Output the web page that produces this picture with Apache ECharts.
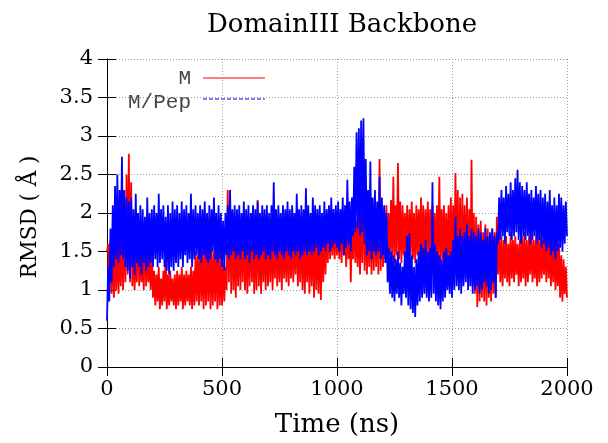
<!DOCTYPE html>
<html>
<head>
<meta charset="utf-8">
<script src="https://cdn.jsdelivr.net/npm/echarts@6/dist/echarts.min.js"></script>
<style>html,body{margin:0;padding:0;background:#fff}#c{width:608px;height:443px}</style>
</head>
<body>
<div id="c"></div>
<script>
// Sampling step of the trajectory (ns)
const stepNs = 5;
const xTicks = [0, 500, 1000, 1500, 2000];
const yTicks = [0, 0.5, 1, 1.5, 2, 2.5, 3, 3.5, 4];
const seriesNames = ['M', 'M/Pep'];

// RMSD of M (red), one value every 5 ns, 0..2000 ns
const rmsdM = [
 1.5,1.6, 1.0,1.65, 0.95,1.6, 0.9,1.55, 1.0,1.7, 0.95,1.6, 1.05,1.8, 1.0,2.0, 1.1,2.5, 1.2,2.77,
 1.1,2.4, 1.05,1.6, 1.0,1.5, 1.1,2.0, 1.05,1.55, 1.1,1.45, 1.0,1.9, 1.05,1.5, 1.1,1.45, 1.0,1.5,
 0.9,1.25, 0.8,1.2, 0.85,1.3, 0.75,1.15, 0.8,1.25, 0.85,1.5, 0.75,1.2, 0.8,1.25, 0.85,1.15, 0.8,1.2,
 0.75,1.25, 0.8,1.2, 0.85,1.3, 0.75,1.2, 0.8,1.25, 0.85,1.2, 0.8,1.3, 0.75,1.25, 0.8,1.5, 0.85,1.45,
 0.8,1.55, 0.85,1.5, 0.75,1.6, 0.8,1.5, 0.85,1.65, 0.75,1.55, 0.8,1.5, 0.85,1.6, 0.75,1.55, 0.8,1.45,
 0.8,1.35, 0.85,1.3, 1.0,2.3, 1.1,2.2, 0.95,2.0, 1.0,1.9, 0.9,2.0, 1.05,1.85, 1.0,1.9, 1.1,2.0,
 1.0,1.85, 0.95,1.9, 1.05,2.0, 1.1,1.8, 0.95,1.9, 1.0,2.17, 1.05,1.85, 0.95,1.9, 1.1,1.8, 1.0,1.9,
 1.05,1.85, 1.1,1.9, 1.0,1.8, 1.15,1.95, 1.05,1.85, 1.1,1.9, 1.0,1.85, 1.15,1.8, 1.1,1.9, 1.05,1.85,
 1.15,1.9, 1.1,1.85, 1.2,1.95, 1.05,1.8, 1.1,1.9, 1.0,1.85, 0.95,1.8, 1.1,1.9, 0.95,1.85, 1.05,1.9,
 0.9,1.85, 1.0,1.8, 0.95,1.9, 0.87,1.85, 1.1,1.8, 1.2,1.9, 1.35,1.95, 1.4,1.9, 1.45,1.95, 1.4,1.9,
 1.45,1.9, 1.4,2.0, 1.35,1.95, 1.45,1.9, 1.3,2.0, 1.4,1.95, 1.1,1.9, 1.4,2.0, 1.35,1.9, 1.3,2.1,
 1.2,2.0, 1.35,2.65, 1.25,2.1, 1.2,2.0, 1.3,2.15, 1.2,2.05, 1.25,2.1, 1.3,2.0, 1.2,2.7, 1.25,2.1,
 1.3,2.05, 1.4,2.1, 1.35,2.0, 1.45,2.17, 1.4,2.47, 1.35,2.1, 1.45,2.65, 1.4,2.15, 1.35,2.1, 1.45,2.0,
 1.4,2.1, 1.35,2.05, 1.45,2.15, 1.4,2.0, 1.35,2.1, 1.45,2.05, 1.4,2.2, 1.35,2.1, 1.4,2.05, 1.45,2.15,
 1.4,2.05, 1.35,2.1, 1.3,2.0, 1.4,2.1, 1.35,2.47, 1.3,2.05, 1.4,2.1, 1.35,2.0, 1.3,2.1, 1.35,2.2,
 1.3,2.1, 1.2,2.52, 1.25,2.3, 1.15,2.2, 1.2,2.25, 1.15,2.1, 1.2,2.2, 1.1,2.05, 1.15,2.69, 1.05,2.0,
 0.95,1.95, 0.78,1.85, 0.85,1.9, 0.9,1.75, 0.85,1.85, 0.8,1.8, 0.9,1.7, 0.85,1.8, 0.95,1.75, 0.9,1.95,
 1.2,1.75, 1.1,1.7, 1.05,1.65, 1.15,1.7, 1.1,1.6, 1.05,1.75, 1.15,1.65, 1.1,1.7, 1.2,1.6, 1.05,1.65,
 1.1,1.7, 1.15,1.75, 1.05,1.65, 1.1,1.7, 1.2,1.75, 1.1,1.65, 1.15,1.7, 1.05,1.75, 1.1,1.7, 1.15,1.65,
 1.2,1.7, 1.1,1.75, 1.15,1.7, 1.05,1.65, 1.1,1.6, 1.0,1.55, 1.05,1.6, 0.9,1.45, 0.85,1.4, 0.95,1.3,
 0.9
];

// RMSD of M/Pep (blue), one value every 5 ns, 0..2000 ns
const rmsdMPep = [
 0.6,1.3, 0.85,1.8, 1.1,2.1, 1.3,2.35, 1.4,2.5, 1.35,2.3, 1.45,2.73, 1.4,2.3, 1.3,2.2, 1.25,2.15,
 1.15,2.2, 1.3,2.05, 1.2,2.25, 1.35,2.0, 1.3,2.1, 1.2,2.05, 1.35,1.95, 1.25,2.2, 1.3,2.0, 1.35,2.05,
 1.3,2.1, 1.4,2.0, 1.3,2.25, 1.35,2.05, 1.4,2.1, 1.3,1.95, 1.25,2.1, 1.2,2.0, 1.3,2.15, 1.25,2.05,
 1.35,2.1, 1.3,2.0, 1.4,2.15, 1.3,2.05, 1.45,2.1, 1.35,2.0, 1.4,2.25, 1.3,2.05, 1.4,2.1, 1.45,2.0,
 1.4,2.1, 1.35,2.05, 1.45,2.15, 1.4,2.0, 1.35,2.1, 1.4,2.05, 1.5,2.2, 1.4,2.0, 1.35,2.1, 1.4,2.0,
 1.3,1.9, 1.25,2.0, 1.45,2.1, 1.4,2.3, 1.45,2.05, 1.5,2.1, 1.4,2.05, 1.45,2.1, 1.4,2.0, 1.5,2.15,
 1.4,2.05, 1.45,2.1, 1.35,2.0, 1.5,2.1, 1.4,2.05, 1.45,2.15, 1.4,2.0, 1.45,2.1, 1.5,2.05, 1.4,2.1,
 1.45,2.0, 1.4,2.1, 1.5,2.4, 1.45,2.05, 1.4,2.1, 1.5,2.0, 1.45,2.1, 1.4,2.05, 1.5,2.15, 1.45,2.05,
 1.4,2.1, 1.5,2.0, 1.45,2.25, 1.5,2.05, 1.4,2.1, 1.45,2.05, 1.5,2.32, 1.45,2.1, 1.5,2.0, 1.45,2.2,
 1.5,2.1, 1.55,2.05, 1.45,2.1, 1.5,2.0, 1.55,2.15, 1.5,2.05, 1.6,2.1, 1.5,2.2, 1.55,2.05, 1.6,2.1,
 1.55,2.15, 1.5,2.05, 1.6,2.2, 1.45,2.1, 1.55,2.43, 1.6,2.15, 1.5,2.2, 1.7,2.6, 1.75,3.05, 1.8,3.1,
 1.7,3.2, 1.75,3.23, 1.6,2.7, 1.45,2.3, 1.5,2.67, 1.4,2.2, 1.5,2.3, 1.45,2.15, 1.5,2.47, 1.4,2.2,
 1.45,2.1, 1.35,2.0, 1.1,1.55, 0.95,1.5, 0.9,1.45, 0.85,1.4, 0.95,1.5, 0.9,1.35, 0.8,1.3, 0.95,1.5,
 0.9,1.7, 0.8,1.74, 0.75,1.45, 0.7,1.3, 0.65,1.4, 0.8,1.5, 0.85,1.6, 0.9,1.55, 0.95,1.65, 0.9,1.5,
 0.85,1.55, 0.9,2.4, 0.95,1.6, 0.85,1.5, 0.8,1.45, 0.75,1.4, 0.85,1.5, 0.9,1.55, 1.0,1.45, 0.95,1.5,
 0.9,1.65, 1.0,1.95, 1.05,1.7, 1.0,1.8, 0.95,1.7, 1.05,1.75, 1.1,1.85, 1.0,1.7, 1.05,1.8, 0.95,1.75,
 1.0,1.7, 1.05,1.8, 0.95,1.75, 1.0,1.65, 1.1,1.8, 1.05,1.7, 0.95,1.75, 1.0,1.8, 1.1,1.7, 0.9,1.75,
 1.6,2.2, 1.65,2.3, 1.7,2.2, 1.6,2.35, 1.75,2.25, 1.7,2.4, 1.65,2.3, 1.7,2.45, 1.75,2.56, 1.65,2.4,
 1.6,2.35, 1.7,2.3, 1.65,2.4, 1.7,2.25, 1.6,2.3, 1.65,2.2, 1.7,2.35, 1.6,2.25, 1.65,2.3, 1.55,2.2,
 1.6,2.25, 1.5,2.15, 1.55,2.3, 1.45,2.1, 1.5,2.2, 1.4,2.1, 1.5,2.25, 1.55,2.2, 1.5,2.1, 1.6,2.15,
 1.7
];

const toPairs = arr => arr.map((v, i) => [i * stepNs, v]);

const serif = 'DejaVu Serif';
const chart = echarts.init(document.getElementById('c'), null, {renderer: 'canvas'});

const mirrorAxisCommon = {
  axisLine: {show: true, lineStyle: {color: '#000', width: 1}},
  axisTick: {show: true, inside: true, length: 9, lineStyle: {color: '#000'}},
  axisLabel: {show: false},
  splitLine: {show: false}
};

chart.setOption({
  animation: false,
  backgroundColor: '#fff',
  title: {
    text: 'DomainIII Backbone',
    left: 337,
    textAlign: 'center',
    top: 7,
    textStyle: {fontFamily: serif, fontSize: 26, fontWeight: 'normal', color: '#000'}
  },
  grid: {left: 107, right: 41, top: 59, bottom: 76},
  xAxis: [{
    type: 'value', min: xTicks[0], max: xTicks[xTicks.length - 1], interval: 500,
    position: 'bottom',
    axisLine: {show: true, onZero: false, lineStyle: {color: '#000', width: 1}},
    axisTick: {show: true, inside: true, length: 9, lineStyle: {color: '#000'}},
    axisLabel: {fontFamily: serif, fontSize: 21, color: '#000', margin: 12,
      formatter: v => String(v)},
    splitLine: {show: true, lineStyle: {color: '#999', type: [1, 2], width: 1}},
    name: 'Time (ns)', nameLocation: 'middle', nameGap: 45,
    nameTextStyle: {fontFamily: serif, fontSize: 26, color: '#000'}
  }, Object.assign({
    type: 'value', min: xTicks[0], max: xTicks[xTicks.length - 1], interval: 500, position: 'top'
  }, mirrorAxisCommon)],
  yAxis: [{
    type: 'value', min: yTicks[0], max: yTicks[yTicks.length - 1], interval: 0.5,
    position: 'left',
    axisLine: {show: true, onZero: false, lineStyle: {color: '#000', width: 1}},
    axisTick: {show: true, inside: true, length: 9, lineStyle: {color: '#000'}},
    axisLabel: {fontFamily: serif, fontSize: 21, color: '#000', margin: 14,
      formatter: v => String(v)},
    splitLine: {show: true, lineStyle: {color: '#999', type: [1, 2], width: 1}},
    name: 'RMSD ( Å )', nameLocation: 'middle', nameGap: 66, nameRotate: 90,
    nameTextStyle: {fontFamily: serif, fontSize: 21.5, color: '#000', padding: [0, 8, 0, 0]}
  }, Object.assign({
    type: 'value', min: yTicks[0], max: yTicks[yTicks.length - 1], interval: 0.5, position: 'right'
  }, mirrorAxisCommon)],
  series: [{
    name: seriesNames[0], type: 'line', data: toPairs(rmsdM),
    xAxisIndex: 0, yAxisIndex: 0,
    showSymbol: false, symbol: 'none', silent: true,
    lineStyle: {color: '#ff0000', width: 1.8}, itemStyle: {color: '#ff0000'}, z: 3
  }, {
    name: seriesNames[1], type: 'line', data: toPairs(rmsdMPep),
    xAxisIndex: 0, yAxisIndex: 0,
    showSymbol: false, symbol: 'none', silent: true,
    lineStyle: {color: '#0000ff', width: 1.8}, itemStyle: {color: '#0000ff'}, z: 4
  }],
  graphic: [{
    type: 'group', z: 100,
    children: [
      {type: 'rect', shape: {x: 108, y: 60, width: 170, height: 54}, style: {fill: '#fff'}},
      {type: 'text', x: 191, y: 78, style: {text: seriesNames[0], fill: '#444', font: '21px "Liberation Mono", monospace', textAlign: 'right', textVerticalAlign: 'middle'}},
      {type: 'line', shape: {x1: 203, y1: 78, x2: 265, y2: 78}, style: {stroke: '#ff0000', lineWidth: 1}},
      {type: 'text', x: 191, y: 102, style: {text: seriesNames[1], fill: '#444', font: '21px "Liberation Mono", monospace', textAlign: 'right', textVerticalAlign: 'middle'}},
      {type: 'line', shape: {x1: 203, y1: 99, x2: 265, y2: 99}, style: {stroke: '#0000ff', lineWidth: 1, lineDash: [4, 2]}}
    ]
  }]
});
</script>
</body>
</html>
